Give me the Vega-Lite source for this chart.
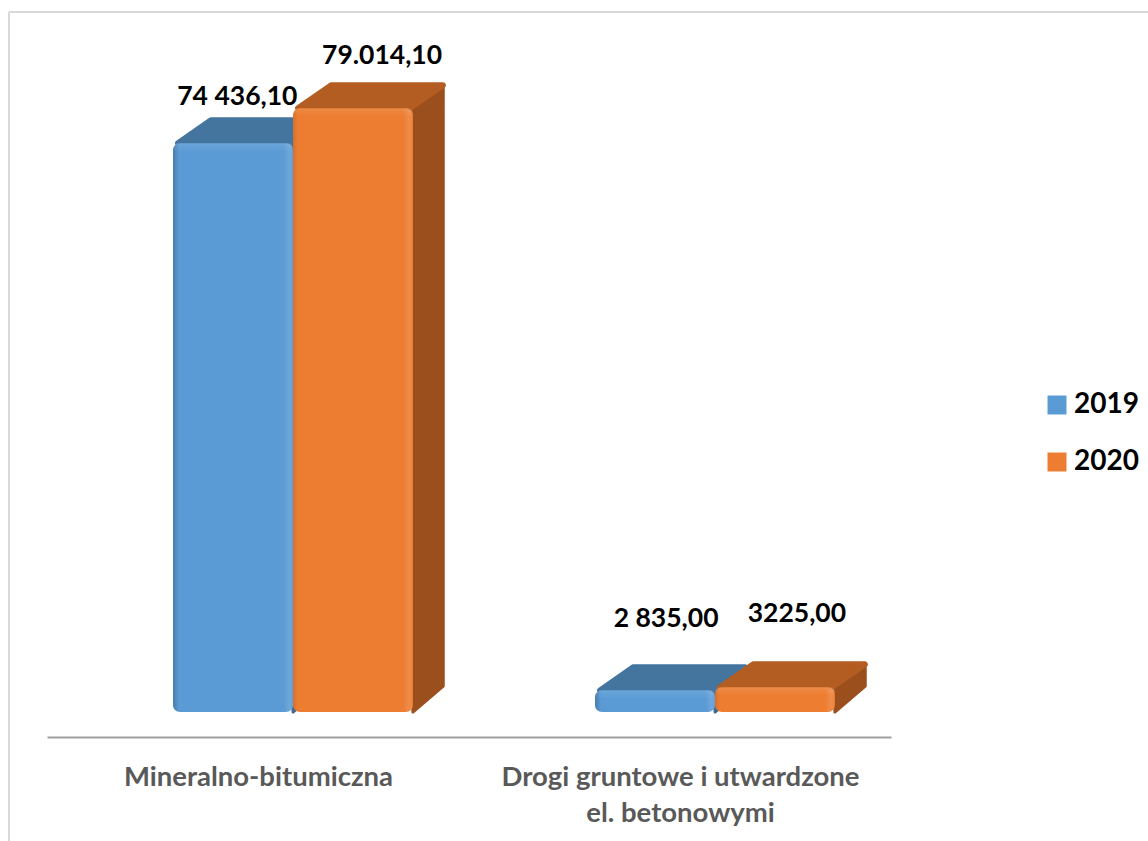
{
"$schema":"https://vega.github.io/schema/vega-lite/v6.json",
"width":844,"height":700,
"autosize":{"type":"none"},
"padding":{"left":47,"top":12,"right":257,"bottom":129},
"background":"white",
"config":{"view":{"stroke":null},"font":"Lato"},
"data":{"values":[
{"category":"Mineralno-bitumiczna","year":"2019","value":74436.1,"label":"74 436,10"},
{"category":"Mineralno-bitumiczna","year":"2020","value":79014.1,"label":"79.014,10"},
{"category":"Drogi gruntowe i utwardzone el. betonowymi","year":"2019","value":2835,"label":"2 835,00"},
{"category":"Drogi gruntowe i utwardzone el. betonowymi","year":"2020","value":3225,"label":"3225,00"}
]},
"transform":[
{"calculate":"datum.category=='Mineralno-bitumiczna'?0:1","as":"i"},
{"calculate":"datum.i+(datum.year=='2019'?0.2986:0.583)","as":"x0"},
{"calculate":"datum.i+(datum.year=='2019'?0.583:0.867)","as":"x1"},
{"calculate":"datum.i==0?(datum.year=='2019'?0.451:0.794):(datum.year=='2019'?1.467:1.777)","as":"lx"},
{"calculate":"datum.value+(datum.i==0?(datum.year=='2019'?6100:6900):(datum.year=='2019'?9300:9600))","as":"ly"},
{"calculate":"datum.value-1100","as":"hi"}
],
"layer":[
{"mark":{"type":"rule","color":"#d9d9d9","strokeWidth":1.5},
 "encoding":{"x":{"datum":-0.09,"type":"quantitative","scale":{"domain":[0,2],"nice":false,"zero":false},"axis":{"values":[0.5,1.5],"title":null,"grid":false,"ticks":false,"offset":25,"domainColor":"#a0a0a0","domainWidth":2,"labelColor":"#595959","labelFontWeight":"bold","labelFontSize":27.5,"labelFont":"Lato","labelPadding":26,"labelLineHeight":36,"labelLimit":500,"labelOverlap":false,"labelBound":false,"labelFlush":false,"labelExpr":"datum.value<1?'Mineralno-bitumiczna':['Drogi gruntowe i utwardzone','el. betonowymi']"}},
  "y":{"datum":91623,"type":"quantitative","scale":{"domain":[0,91623],"nice":false},"axis":null},
  "y2":{"datum":-16885}}},
{"mark":{"type":"rule","color":"#d9d9d9","strokeWidth":1.5},
 "encoding":{"x":{"datum":-0.09,"type":"quantitative"},"x2":{"datum":2.61},"y":{"datum":91623,"type":"quantitative"}}},

{"transform":[{"filter":"datum.year=='2019'"},{"calculate":"[0,1]","as":"t"},{"flatten":["t"]},{"calculate":"datum.x1+datum.t*0.072","as":"sx"},{"calculate":"datum.value+datum.t*3000","as":"sy"},{"calculate":"datum.t*3403","as":"sy2"}],
 "mark":{"type":"area","color":"#3b6a94","stroke":"#3b6a94","strokeWidth":3,"strokeJoin":"round"},
 "encoding":{"detail":{"field":"category"},"x":{"field":"sx","type":"quantitative"},"y":{"field":"sy","type":"quantitative","stack":null},"y2":{"field":"sy2"}}},
{"transform":[{"filter":"datum.year=='2019'"},{"calculate":"[0,1]","as":"t"},{"flatten":["t"]},{"calculate":"datum.x0+0.012+datum.t*0.078","as":"ax"},{"calculate":"datum.x1-0.007+datum.t*0.078","as":"ax2"},{"calculate":"datum.value+datum.t*3010","as":"ay"}],
 "mark":{"type":"area","orient":"horizontal","color":"#44759f","stroke":"#44759f","strokeWidth":6,"strokeJoin":"round"},
 "encoding":{"detail":{"field":"category"},"y":{"field":"ay","type":"quantitative"},"x":{"field":"ax","type":"quantitative","stack":null},"x2":{"field":"ax2"}}},
{"transform":[{"filter":"datum.year=='2019'"}],
 "mark":{"type":"rect","cornerRadius":7},
 "encoding":{"x":{"field":"x0","type":"quantitative"},"x2":{"field":"x1"},"y":{"field":"value","type":"quantitative"},"y2":{"datum":0},
  "color":{"field":"year","type":"nominal","scale":{"domain":["2019","2020"],"range":["#5b9bd5","#ed7d31"]},
   "legend":{"orient":"none","legendX":996,"legendY":380,"title":null,"symbolType":"square","symbolSize":360,"symbolStrokeWidth":0,"symbolOpacity":1,"labelFontSize":28,"labelFontWeight":"bold","labelFont":"Lato","labelColor":"#000000","labelOffset":3,"rowPadding":29,"padding":0,"clipHeight":26}}}},
{"transform":[{"filter":"datum.year=='2019'"}],
 "mark":{"type":"rect","cornerRadius":7,"fill":{"gradient":"linear","x1":0,"x2":1,"y1":0,"y2":0,"stops":[{"offset":0,"color":"rgba(0,0,0,0.2)"},{"offset":0.05,"color":"rgba(0,0,0,0)"},{"offset":0.92,"color":"rgba(255,255,255,0)"},{"offset":0.97,"color":"rgba(255,255,255,0.12)"},{"offset":1,"color":"rgba(255,255,255,0.05)"}]}},
 "encoding":{"x":{"field":"x0","type":"quantitative"},"x2":{"field":"x1"},"y":{"field":"value","type":"quantitative"},"y2":{"datum":0}}},
{"transform":[{"filter":"datum.year=='2019'"}],
 "mark":{"type":"rect","cornerRadius":5,"fill":{"gradient":"linear","x1":0,"x2":0,"y1":0,"y2":1,"stops":[{"offset":0,"color":"rgba(255,255,255,0.1)"},{"offset":1,"color":"rgba(255,255,255,0)"}]}},
 "encoding":{"x":{"field":"x0","type":"quantitative"},"x2":{"field":"x1"},"y":{"field":"value","type":"quantitative"},"y2":{"field":"hi"}}},

{"transform":[{"filter":"datum.year=='2020'"},{"calculate":"[0,1]","as":"t"},{"flatten":["t"]},{"calculate":"datum.x1+datum.t*0.072","as":"sx"},{"calculate":"datum.value+datum.t*3000","as":"sy"},{"calculate":"datum.t*3403","as":"sy2"}],
 "mark":{"type":"area","color":"#9a4f1c","stroke":"#9a4f1c","strokeWidth":3,"strokeJoin":"round"},
 "encoding":{"detail":{"field":"category"},"x":{"field":"sx","type":"quantitative"},"y":{"field":"sy","type":"quantitative","stack":null},"y2":{"field":"sy2"}}},
{"transform":[{"filter":"datum.year=='2020'"},{"calculate":"[0,1]","as":"t"},{"flatten":["t"]},{"calculate":"datum.x0+0.012+datum.t*0.078","as":"ax"},{"calculate":"datum.x1-0.007+datum.t*0.078","as":"ax2"},{"calculate":"datum.value+datum.t*3010","as":"ay"}],
 "mark":{"type":"area","orient":"horizontal","color":"#b35d22","stroke":"#b35d22","strokeWidth":6,"strokeJoin":"round"},
 "encoding":{"detail":{"field":"category"},"y":{"field":"ay","type":"quantitative"},"x":{"field":"ax","type":"quantitative","stack":null},"x2":{"field":"ax2"}}},
{"transform":[{"filter":"datum.year=='2020'"}],
 "mark":{"type":"rect","cornerRadius":7},
 "encoding":{"x":{"field":"x0","type":"quantitative"},"x2":{"field":"x1"},"y":{"field":"value","type":"quantitative"},"y2":{"datum":0},
  "color":{"field":"year","type":"nominal"}}},
{"transform":[{"filter":"datum.year=='2020'"}],
 "mark":{"type":"rect","cornerRadius":7,"fill":{"gradient":"linear","x1":0,"x2":1,"y1":0,"y2":0,"stops":[{"offset":0,"color":"rgba(0,0,0,0.1)"},{"offset":0.04,"color":"rgba(0,0,0,0)"},{"offset":0.92,"color":"rgba(255,255,255,0)"},{"offset":0.97,"color":"rgba(255,255,255,0.12)"},{"offset":1,"color":"rgba(255,255,255,0.05)"}]}},
 "encoding":{"x":{"field":"x0","type":"quantitative"},"x2":{"field":"x1"},"y":{"field":"value","type":"quantitative"},"y2":{"datum":0}}},
{"transform":[{"filter":"datum.year=='2020'"}],
 "mark":{"type":"rect","cornerRadius":5,"fill":{"gradient":"linear","x1":0,"x2":0,"y1":0,"y2":1,"stops":[{"offset":0,"color":"rgba(255,255,255,0.1)"},{"offset":1,"color":"rgba(255,255,255,0)"}]}},
 "encoding":{"x":{"field":"x0","type":"quantitative"},"x2":{"field":"x1"},"y":{"field":"value","type":"quantitative"},"y2":{"field":"hi"}}},

{"mark":{"type":"text","font":"Lato","fontWeight":"bold","fontSize":26.5,"color":"#000000","align":"center","baseline":"middle"},
 "encoding":{"x":{"field":"lx","type":"quantitative"},"y":{"field":"ly","type":"quantitative"},"text":{"field":"label"}}}
]
}
